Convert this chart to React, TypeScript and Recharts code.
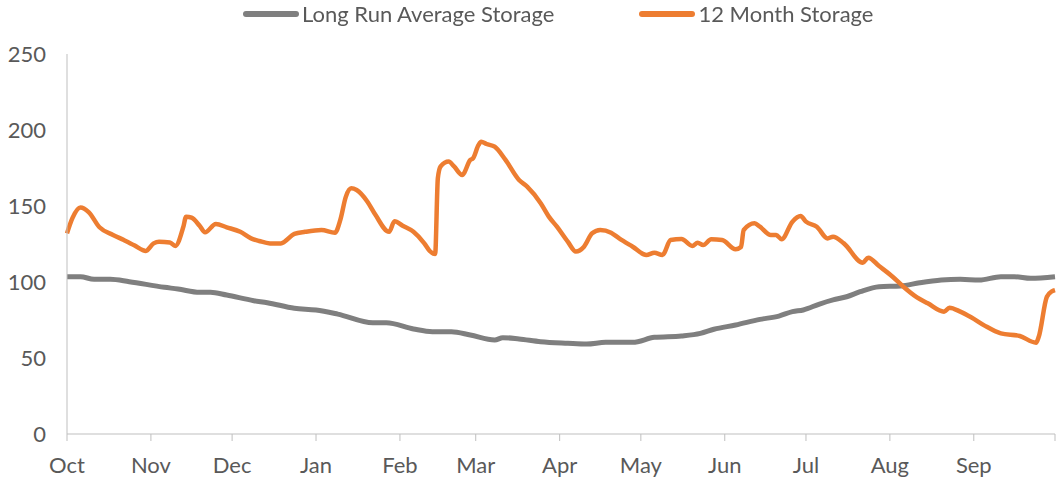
import { Legend, Line, LineChart, XAxis, YAxis } from "recharts";

const monthTicks = [0, 31, 61, 92, 123, 151, 182, 212, 243, 273, 304, 335, 365];
const monthLabels = ["Oct", "Nov", "Dec", "Jan", "Feb", "Mar", "Apr", "May", "Jun", "Jul", "Aug", "Sep", ""];
const valueTicks = [0, 50, 100, 150, 200, 250];

// day of water year (Oct 1 = 0)
const averageDays = [0, 5, 10, 16, 23, 36, 41, 49, 53, 59, 69, 74, 84, 92, 100, 113, 118, 128, 135, 142, 149, 158, 161, 167, 175, 185, 192, 199, 209, 217, 227, 234, 239, 247, 256, 263, 268, 272, 278, 283, 288, 293, 300, 308, 315, 323, 330, 337, 345, 350, 356, 365];
const averageValues = [103.5, 103.5, 101.8, 101.8, 100.2, 96.5, 95.4, 93.2, 93.2, 91.4, 87.7, 86.4, 82.7, 81.6, 78.9, 73.2, 73.2, 69.1, 67.3, 67.3, 65.1, 61.8, 63.4, 62.5, 60.7, 59.7, 59.2, 60.3, 60.3, 63.6, 64.5, 66.2, 68.9, 71.7, 75.4, 77.6, 80.5, 81.6, 85.5, 88.2, 90.3, 93.6, 96.9, 97.4, 99.5, 101.3, 101.8, 101.3, 103.5, 103.5, 102.4, 103.5];

const storageDays = [0, 2, 5, 8, 12, 17, 21, 25, 28, 29, 32, 34, 38, 40, 43, 44, 46, 49, 51, 55, 59, 64, 68, 71, 75, 79, 84, 88, 94, 99, 101, 103, 105, 107, 111, 114, 119, 121, 124, 128, 132, 134, 136, 137, 138, 141, 143, 146, 149, 150, 152, 153, 155, 158, 162, 167, 170, 175, 178, 181, 185, 188, 191, 194, 197, 201, 204, 209, 214, 217, 220, 223, 227, 231, 233, 235, 238, 242, 247, 249, 250, 254, 256, 260, 262, 264, 268, 271, 273, 277, 281, 283, 287, 294, 296, 300, 305, 309, 314, 318, 324, 326, 330, 334, 339, 345, 352, 358, 359, 362, 364, 365];
const storageValues = [132, 142, 149, 146, 136, 131, 127.6, 124, 121, 120.4, 125.4, 126.5, 126, 123.7, 136.4, 143, 142.3, 137, 132.7, 138.2, 136, 133, 128.7, 127, 125.4, 125.4, 131.6, 133, 134.2, 132.4, 141, 156, 161.6, 160.5, 152.8, 144, 133, 140, 137, 133, 125.4, 120.4, 118.4, 168.2, 176, 179.2, 176, 170.4, 180.3, 181.4, 190, 192.3, 190.8, 189, 180.3, 167.1, 162.7, 151.8, 143, 136.4, 126.5, 120, 123.2, 132, 134.2, 132.4, 128.7, 123.2, 117.8, 119.3, 117.8, 127.6, 128.3, 123.7, 125.9, 124.3, 128.1, 127.6, 121.5, 123, 134.2, 138.6, 136.4, 130.9, 130.9, 128.1, 139.7, 143.4, 139.7, 136.4, 128.7, 129.8, 125.4, 112.7, 116, 110.5, 103.5, 96.9, 89.9, 86, 80.5, 83.1, 80.5, 76.8, 71.3, 66.2, 64.5, 60.1, 64, 90.3, 94, 94.7];

const averageData = averageDays.map((day, i) => ({ day, value: averageValues[i] }));
const storageData = storageDays.map((day, i) => ({ day, value: storageValues[i] }));

const GREY = "#7f7f7f";
const ORANGE = "#ed7d31";
const TEXT = "#595959";
const FONT = "Lato, 'Liberation Sans', sans-serif";

function LegendBox() {
  const items = [
    { name: "Long Run Average Storage", color: GREY },
    { name: "12 Month Storage", color: ORANGE },
  ];
  return (
    <div style={{ display: "flex", alignItems: "center", fontFamily: FONT, fontSize: 22, color: TEXT }}>
      {items.map((item, i) => (
        <div key={item.name} style={{ display: "flex", alignItems: "center", marginLeft: i ? 85 : 0 }}>
          <svg width={56} height={8}>
            <line x1={3} y1={4} x2={53} y2={4} stroke={item.color} strokeWidth={6} strokeLinecap="round" />
          </svg>
          <span style={{ marginLeft: 3 }}>{item.name}</span>
        </div>
      ))}
    </div>
  );
}

export default function App() {
  return (
    <div style={{ position: "fixed", left: 0, top: 0, width: 1056, height: 482, background: "#fff" }}>
      <LineChart width={1056} height={482} margin={{ top: 54, right: 1, left: 0, bottom: 18 }}>
        <Legend verticalAlign="middle" wrapperStyle={{ top: 0, left: 243 }} content={() => <LegendBox />} />
        <XAxis
          dataKey="day"
          type="number"
          domain={[0, 365]}
          ticks={monthTicks}
          interval={0}
          allowDuplicatedCategory={false}
          tickFormatter={(d) => monthLabels[monthTicks.indexOf(d)] ?? ""}
          height={30}
          tickSize={7}
          tickMargin={16}
          axisLine={{ stroke: "#bfbfbf" }}
          tickLine={{ stroke: "#bfbfbf" }}
          tick={{ fill: TEXT, fontSize: 22, fontFamily: FONT }}
        />
        <YAxis
          type="number"
          domain={[0, 250]}
          ticks={valueTicks}
          width={67}
          tickLine={false}
          tickSize={6}
          tickMargin={15}
          axisLine={{ stroke: "#bfbfbf" }}
          tick={{ fill: TEXT, fontSize: 22, fontFamily: FONT }}
        />
        <Line data={averageData} dataKey="value" type="monotone" stroke={GREY} strokeWidth={5} dot={false} isAnimationActive={false} legendType="none" />
        <Line data={storageData} dataKey="value" type="monotone" stroke={ORANGE} strokeWidth={4.5} dot={false} isAnimationActive={false} legendType="none" />
      </LineChart>
    </div>
  );
}
